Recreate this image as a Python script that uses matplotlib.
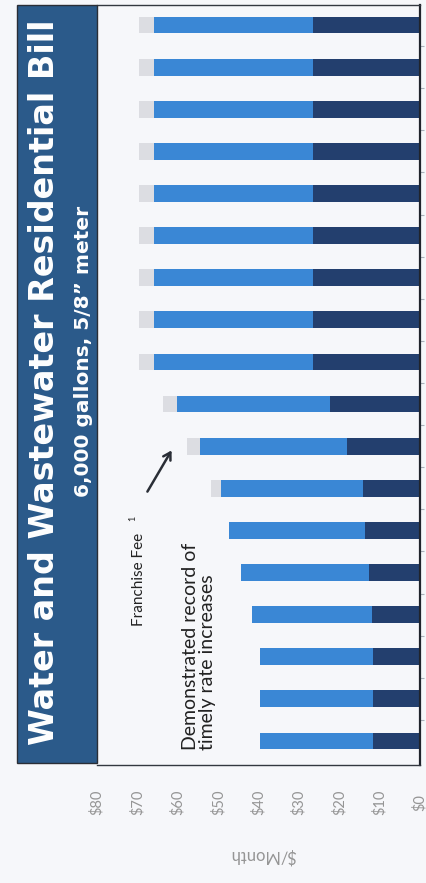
import matplotlib
matplotlib.use('Agg')
import matplotlib.pyplot as plt
from matplotlib import patches

# bars from first (bottom) to last (top), $/month
wastewater = [11.75, 11.75, 11.75, 11.9, 12.7, 13.5, 14.2, 18.2, 22.2,
              26.4, 26.4, 26.4, 26.4, 26.4, 26.4, 26.4, 26.4, 26.4]
water = [27.95, 27.95, 27.95, 29.6, 31.6, 33.9, 35.2, 36.4, 37.9,
         39.4, 39.4, 39.4, 39.4, 39.4, 39.4, 39.4, 39.4, 39.4]
franchise = [0, 0, 0, 0, 0, 0, 2.3, 3.0, 3.5,
             3.8, 3.8, 3.8, 3.8, 3.8, 3.8, 3.8, 3.8, 3.8]
value_ticks = [0, 10, 20, 30, 40, 50, 60, 70, 80]
tick_labels = ['$0', '$10', '$20', '$30', '$40', '$50', '$60', '$70', '$80']

W, H = 426, 883
bg = '#f6f7fa'
fig = plt.figure(figsize=(W / 100, H / 100), dpi=100, facecolor=bg)

def fx(px):
  return px / W

def fy(py):
  return 1 - py / H

ax = fig.add_axes([fx(97), fy(765), fx(420) - fx(97), fy(5) - fy(765)], facecolor=bg)

pos = list(range(len(water)))
h = 0.4
ax.barh(pos, wastewater, height=h, color='#233f6e', linewidth=0)
ax.barh(pos, water, left=wastewater, height=h, color='#3a87d5', linewidth=0)
left2 = [a + b for a, b in zip(wastewater, water)]
ax.barh(pos, franchise, left=left2, height=h, color='#dcdde2', linewidth=0)

ax.set_xlim(80, 0)
ax.set_ylim(-0.57, 17.475)
ax.set_xticks(value_ticks)
ax.set_xticklabels(tick_labels, rotation=90, color='#959595', fontsize=10.5,
                   va='center', family='Lato')
ax.tick_params(axis='x', length=0, pad=27)
ax.yaxis.tick_right()
ax.set_yticks([p + 0.5 for p in pos[:-1]])
ax.set_yticklabels([])
ax.tick_params(axis='y', length=3, color='#aab0ba', direction='out')
ax.spines['left'].set_visible(False)
for s in ['top', 'bottom']:
  ax.spines[s].set_color('#333840')
  ax.spines[s].set_linewidth(1.0)
ax.spines['right'].set_color('#20242c')
ax.spines['right'].set_linewidth(1.6)

fig.text(fx(263), fy(855), '$/Month', rotation=180, color='#959595', fontsize=12,
         ha='center', va='center', family='Lato')

# title banner
banner = patches.Rectangle((fx(17), fy(763)), fx(97) - fx(17), fy(5) - fy(763),
                           transform=fig.transFigure, facecolor='#2b5a8a',
                           edgecolor='#2a2e36', linewidth=1.0)
fig.add_artist(banner)
fig.text(fx(45), fy(382), 'Water and Wastewater Residential Bill', rotation=90,
         color='white', fontsize=24, fontweight='bold', ha='center', va='center')
fig.text(fx(84), fy(351), '6,000 gallons, 5/8\u201d meter', rotation=90,
         color='white', fontsize=14.5, fontweight='bold', ha='center', va='center')

# annotations
fig.text(fx(139), fy(626), 'Franchise Fee', rotation=90, color='#222222',
         fontsize=11, ha='center', va='bottom', family='Lato')
fig.text(fx(133), fy(518), '1', rotation=90, color='#222222', fontsize=6.5,
         ha='center', va='center', family='Lato')
fig.text(fx(199), fy(750), 'Demonstrated record of\ntimely rate increases',
         rotation=90, color='#222222', fontsize=14, ha='center', va='bottom',
         linespacing=1.05, multialignment='left', family='Lato')
fig.add_artist(patches.FancyArrowPatch((fx(146), fy(494)), (fx(173), fy(448)),
                                       transform=fig.transFigure,
                                       arrowstyle='->,head_length=5,head_width=3',
                                       color='#2a2e36', linewidth=1.8))

fig.savefig('out.png', dpi=100, facecolor=bg)
